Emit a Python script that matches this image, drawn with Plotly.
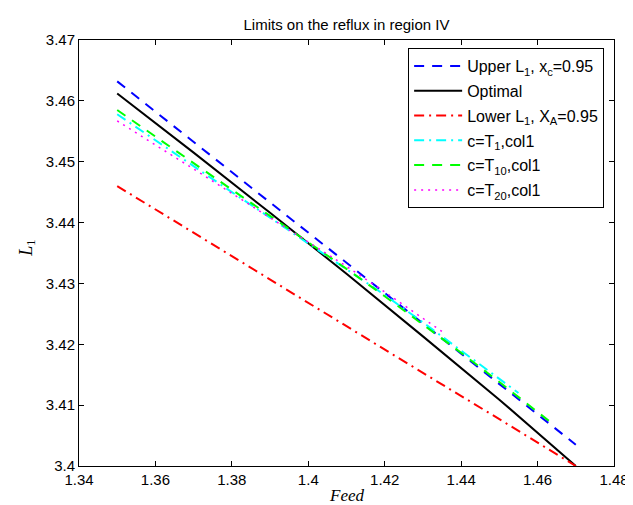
import plotly.graph_objects as go

# Data
feed_lin = [1.35, 1.37, 1.39, 1.41, 1.43, 1.45, 1.47]
upper_L1 = [3.4632, 3.4532, 3.4433, 3.4334, 3.4234, 3.4135, 3.4035]
optimal = [3.4612, 3.4515, 3.4416, 3.4316, 3.4213, 3.4109, 3.4000]
lower_L1 = [3.4460, 3.4383, 3.4307, 3.4230, 3.4153, 3.4077, 3.4000]

feed_T1 = [1.35, 1.36, 1.37, 1.38, 1.39, 1.40, 1.41, 1.42, 1.43, 1.44, 1.45, 1.455]
T1 = [3.4578, 3.4535, 3.4492, 3.4450, 3.4408, 3.4366, 3.4324, 3.4281, 3.4236, 3.4190, 3.4143, 3.4120]

feed_T10 = [1.35, 1.36, 1.37, 1.38, 1.39, 1.40, 1.41, 1.42, 1.43, 1.44, 1.45, 1.464]
T10 = [3.4585, 3.4541, 3.4497, 3.4454, 3.4411, 3.4368, 3.4324, 3.4279, 3.4233, 3.4186, 3.4138, 3.4069]

feed_T20 = [1.35, 1.36, 1.37, 1.38, 1.39, 1.40, 1.41, 1.42, 1.43, 1.435]
T20 = [3.4567, 3.4528, 3.4488, 3.4448, 3.4408, 3.4368, 3.4328, 3.4286, 3.4243, 3.4221]

x_ticks = [1.34, 1.36, 1.38, 1.40, 1.42, 1.44, 1.46, 1.48]
x_tick_labels = ["1.34", "1.36", "1.38", "1.4", "1.42", "1.44", "1.46", "1.48"]
y_ticks = [3.40, 3.41, 3.42, 3.43, 3.44, 3.45, 3.46, 3.47]
y_tick_labels = ["3.4", "3.41", "3.42", "3.43", "3.44", "3.45", "3.46", "3.47"]

names = [
    "Upper L<sub>1</sub>, x<sub>c</sub>=0.95",
    "Optimal",
    "Lower L<sub>1</sub>, X<sub>A</sub>=0.95",
    "c=T<sub>1</sub>,col1",
    "c=T<sub>10</sub>,col1",
    "c=T<sub>20</sub>,col1",
]

FONT = "Liberation Sans, Arial, Helvetica, sans-serif"
SERIF = "Liberation Serif, Times New Roman, serif"

styles = [
    dict(color="#0000ff", width=2, dash="10px,8px"),
    dict(color="#000000", width=2),
    dict(color="#ff0000", width=2, dash="10px,5px,2px,5px"),
    dict(color="#00ffff", width=2, dash="10px,5px,2px,5px"),
    dict(color="#00ff00", width=2, dash="10px,8px"),
    dict(color="#ff00ff", width=1.5, dash="2px,5px"),
]
series = [
    (feed_lin, upper_L1),
    (feed_lin, optimal),
    (feed_lin, lower_L1),
    (feed_T1, T1),
    (feed_T10, T10),
    (feed_T20, T20),
]

fig = go.Figure()
for i, ((xs, ys), nm, st) in enumerate(zip(series, names, styles)):
    fig.add_trace(go.Scatter(x=xs, y=ys, mode="lines", name=nm, line=st,
                             legendgroup=f"g{i}"))

axis_common = dict(
    showline=True, linecolor="black", linewidth=1, mirror="ticks",
    ticks="inside", ticklen=5, tickwidth=1, tickcolor="black",
    showgrid=False, zeroline=False,
    tickfont=dict(family=FONT, size=15, color="black"),
)

fig.update_layout(
    width=633, height=505,
    margin=dict(l=71, r=20, t=32, b=47),
    paper_bgcolor="white", plot_bgcolor="white",
    font=dict(family=FONT, size=15, color="black"),
    title=dict(text="Limits on the reflux in region IV", x=0.5, xanchor="center",
               xref="paper", y=1 - 17 / 505, yanchor="middle",
               font=dict(family=FONT, size=15, color="black")),
    xaxis=dict(range=[1.34, 1.48], tickvals=x_ticks, ticktext=x_tick_labels, **axis_common),
    yaxis=dict(range=[3.40, 3.47], tickvals=y_ticks, ticktext=y_tick_labels, **axis_common),
    legend=dict(x=(603 - 71) / 542, y=(458 - 40) / 426, xanchor="right", yanchor="top",
                bgcolor="white", bordercolor="black", borderwidth=1,
                font=dict(family=FONT, size=16, color="black"),
                itemwidth=48, tracegroupgap=1, traceorder="grouped"),
    showlegend=True,
    annotations=[
        dict(text="<i>Feed</i>", xref="paper", yref="paper", x=0.5, y=-(488 - 458) / 426,
             xanchor="center", yanchor="middle", showarrow=False,
             font=dict(family=SERIF, size=17, color="black")),
        dict(text="<i>L</i><sub>1</sub>", xref="paper", yref="paper", x=-(71 - 18) / 542,
             y=(458 - 240) / 426, xanchor="center", yanchor="middle", showarrow=False,
             textangle=-90,
             font=dict(family=SERIF, size=18, color="black")),
    ],
)

fig.write_html("out.html")
